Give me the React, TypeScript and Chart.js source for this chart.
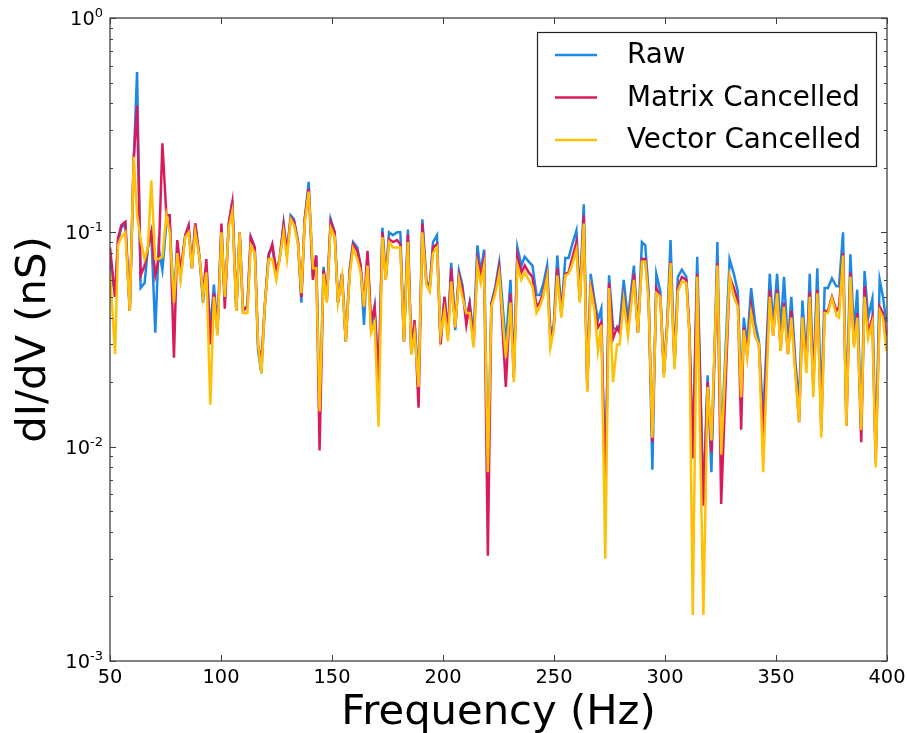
import React, { useEffect, useRef } from 'react';
import { Chart, registerables } from 'chart.js';

Chart.register(...registerables);

const freq = [
  50.0, 52.3, 53.6, 55.1, 56.9, 58.9, 60.7, 62.2, 63.8, 65.6, 67.1, 68.6, 70.4, 71.9, 73.6, 75.4, 76.9, 78.8, 80.3, 81.8,
  83.9, 85.4, 86.9, 88.4, 90.4, 91.9, 93.4, 95.2, 96.8, 98.4, 100.2, 101.7, 103.5, 105.1, 106.9, 108.4, 109.9, 111.9, 113.4, 115.2,
  116.7, 118.2, 119.7, 121.5, 123.1, 124.9, 126.4, 128.2, 129.7, 131.4, 132.9, 134.7, 136.2, 137.7, 139.5, 141.4, 142.9, 144.4, 146.2, 147.7,
  149.4, 151.2, 152.7, 154.5, 156.2, 158.0, 159.5, 161.4, 162.9, 164.4, 166.0, 167.6, 169.2, 171.0, 172.7, 174.2, 175.7, 177.5, 179.3, 180.8,
  182.4, 184.2, 185.7, 187.2, 189.0, 190.7, 192.5, 194.0, 195.5, 197.3, 198.9, 200.7, 202.2, 203.7, 205.5, 207.2, 208.7, 210.5, 212.0, 213.8,
  215.5, 217.0, 218.5, 220.2, 221.8, 223.6, 225.3, 228.3, 230.4, 231.9, 233.5, 235.3, 236.8, 238.6, 240.3, 242.1, 243.6, 245.1, 246.9, 248.4,
  249.9, 251.5, 253.3, 255.1, 256.6, 258.1, 260.1, 261.6, 263.4, 265.0, 266.5, 268.3, 269.8, 271.3, 273.1, 274.8, 276.6, 278.4, 279.6, 281.4,
  283.3, 286.0, 287.8, 289.6, 291.1, 292.6, 294.3, 296.1, 297.9, 299.5, 301.0, 302.5, 304.3, 305.8, 307.6, 309.6, 311.0, 312.5, 314.5, 317.3,
  319.2, 320.9, 323.6, 325.3, 329.1, 331.0, 332.8, 334.3, 335.5, 337.0, 338.8, 340.6, 342.3, 344.2, 347.2, 348.7, 350.5, 352.1, 353.6, 355.4,
  356.9, 358.7, 360.4, 361.9, 363.7, 365.2, 366.8, 368.6, 370.4, 371.9, 373.4, 375.2, 377.2, 378.4, 380.2, 381.7, 383.5, 385.1, 386.6, 388.4,
  389.9, 391.5, 393.4, 394.9, 396.7, 398.2, 399.7,
];

const raw = [
  0.075, 0.05, 0.09, 0.105, 0.11, 0.043, 0.22, 0.56, 0.055, 0.058, 0.085, 0.1, 0.034, 0.085, 0.067, 0.11, 0.11, 0.047, 0.09, 0.062,
  0.097, 0.105, 0.068, 0.11, 0.075, 0.047, 0.07, 0.035, 0.057, 0.035, 0.105, 0.048, 0.11, 0.14, 0.043, 0.1, 0.044, 0.045, 0.095, 0.085,
  0.028, 0.022, 0.045, 0.08, 0.085, 0.065, 0.075, 0.11, 0.08, 0.12, 0.115, 0.09, 0.047, 0.115, 0.172, 0.062, 0.078, 0.015, 0.069, 0.048,
  0.115, 0.1, 0.047, 0.064, 0.031, 0.068, 0.09, 0.085, 0.07, 0.037, 0.08, 0.035, 0.045, 0.02, 0.105, 0.062, 0.1, 0.097, 0.1, 0.1,
  0.031, 0.103, 0.027, 0.038, 0.02, 0.115, 0.06, 0.055, 0.09, 0.097, 0.031, 0.05, 0.033, 0.072, 0.035, 0.066, 0.057, 0.04, 0.047, 0.033,
  0.087, 0.065, 0.083, 0.008, 0.047, 0.056, 0.072, 0.03, 0.06, 0.022, 0.085, 0.07, 0.077, 0.073, 0.07, 0.051, 0.051, 0.057, 0.07, 0.034,
  0.037, 0.078, 0.042, 0.076, 0.076, 0.087, 0.102, 0.049, 0.135, 0.019, 0.064, 0.048, 0.039, 0.044, 0.006, 0.063, 0.036, 0.035, 0.037, 0.06,
  0.039, 0.07, 0.034, 0.09, 0.087, 0.053, 0.0078, 0.064, 0.053, 0.022, 0.038, 0.092, 0.024, 0.062, 0.067, 0.062, 0.035, 0.009, 0.077, 0.0055,
  0.0215, 0.0076, 0.09, 0.01, 0.075, 0.064, 0.053, 0.018, 0.04, 0.03, 0.055, 0.038, 0.031, 0.0135, 0.064, 0.037, 0.064, 0.035, 0.062, 0.03,
  0.05, 0.025, 0.016, 0.048, 0.025, 0.064, 0.02, 0.068, 0.015, 0.055, 0.055, 0.061, 0.056, 0.056, 0.1, 0.014, 0.079, 0.034, 0.054, 0.012,
  0.066, 0.04, 0.049, 0.009, 0.06, 0.05, 0.038,
];

const matrix = [
  0.085, 0.05, 0.094, 0.108, 0.112, 0.043, 0.22, 0.39, 0.063, 0.07, 0.085, 0.1, 0.063, 0.075, 0.26, 0.12, 0.12, 0.026, 0.092, 0.066,
  0.097, 0.108, 0.068, 0.11, 0.075, 0.05, 0.075, 0.03, 0.052, 0.034, 0.11, 0.044, 0.11, 0.138, 0.043, 0.1, 0.043, 0.045, 0.095, 0.085,
  0.03, 0.025, 0.045, 0.078, 0.088, 0.066, 0.075, 0.108, 0.08, 0.117, 0.112, 0.09, 0.05, 0.115, 0.16, 0.06, 0.078, 0.0096, 0.067, 0.05,
  0.112, 0.1, 0.047, 0.064, 0.031, 0.066, 0.088, 0.082, 0.07, 0.045, 0.082, 0.038, 0.045, 0.02, 0.1, 0.06, 0.093, 0.09, 0.092, 0.088,
  0.031, 0.098, 0.028, 0.039, 0.0152, 0.11, 0.058, 0.054, 0.085, 0.088, 0.03, 0.05, 0.033, 0.068, 0.036, 0.063, 0.055, 0.037, 0.046, 0.03,
  0.075, 0.064, 0.075, 0.0031, 0.046, 0.054, 0.068, 0.019, 0.052, 0.021, 0.078, 0.065, 0.07, 0.065, 0.062, 0.045, 0.047, 0.052, 0.064, 0.031,
  0.036, 0.068, 0.042, 0.064, 0.065, 0.075, 0.09, 0.048, 0.12, 0.0185, 0.058, 0.045, 0.036, 0.038, 0.006, 0.058, 0.032, 0.036, 0.034, 0.05,
  0.035, 0.064, 0.034, 0.075, 0.075, 0.05, 0.0105, 0.055, 0.05, 0.022, 0.037, 0.073, 0.024, 0.055, 0.062, 0.06, 0.034, 0.0088, 0.064, 0.0053,
  0.02, 0.0094, 0.072, 0.0054, 0.062, 0.055, 0.048, 0.012, 0.036, 0.027, 0.045, 0.033, 0.03, 0.011, 0.054, 0.033, 0.054, 0.028, 0.047, 0.027,
  0.043, 0.023, 0.013, 0.04, 0.024, 0.053, 0.019, 0.054, 0.012, 0.043, 0.043, 0.05, 0.043, 0.045, 0.08, 0.0125, 0.065, 0.03, 0.042, 0.0105,
  0.056, 0.034, 0.04, 0.0085, 0.045, 0.042, 0.033,
];

const vector = [
  0.065, 0.027, 0.087, 0.095, 0.1, 0.043, 0.225, 0.12, 0.092, 0.075, 0.085, 0.175, 0.075, 0.075, 0.077, 0.12, 0.1, 0.047, 0.08, 0.06,
  0.095, 0.1, 0.068, 0.1, 0.075, 0.05, 0.065, 0.0157, 0.05, 0.033, 0.1, 0.05, 0.105, 0.125, 0.043, 0.1, 0.042, 0.042, 0.087, 0.08,
  0.03, 0.022, 0.045, 0.075, 0.075, 0.06, 0.075, 0.1, 0.075, 0.115, 0.108, 0.088, 0.052, 0.11, 0.155, 0.068, 0.068, 0.0146, 0.064, 0.047,
  0.105, 0.095, 0.047, 0.062, 0.031, 0.064, 0.084, 0.075, 0.065, 0.045, 0.07, 0.034, 0.038, 0.0124, 0.095, 0.06, 0.09, 0.085, 0.085, 0.085,
  0.031, 0.09, 0.027, 0.034, 0.019, 0.1, 0.057, 0.053, 0.08, 0.085, 0.033, 0.043, 0.031, 0.059, 0.036, 0.06, 0.05, 0.042, 0.042, 0.029,
  0.07, 0.058, 0.07, 0.0076, 0.045, 0.052, 0.064, 0.026, 0.047, 0.02, 0.07, 0.06, 0.065, 0.06, 0.056, 0.042, 0.045, 0.05, 0.062, 0.029,
  0.035, 0.063, 0.04, 0.063, 0.064, 0.07, 0.083, 0.047, 0.11, 0.018, 0.055, 0.043, 0.028, 0.037, 0.003, 0.055, 0.02, 0.03, 0.03, 0.048,
  0.033, 0.06, 0.034, 0.073, 0.073, 0.048, 0.011, 0.052, 0.05, 0.021, 0.036, 0.072, 0.023, 0.053, 0.059, 0.058, 0.033, 0.00164, 0.062, 0.00164,
  0.019, 0.0107, 0.07, 0.0092, 0.062, 0.05, 0.045, 0.017, 0.035, 0.026, 0.042, 0.033, 0.03, 0.0076, 0.05, 0.033, 0.052, 0.028, 0.045, 0.027,
  0.04, 0.022, 0.013, 0.04, 0.022, 0.05, 0.017, 0.052, 0.011, 0.042, 0.042, 0.049, 0.041, 0.04, 0.078, 0.0125, 0.062, 0.029, 0.04, 0.012,
  0.05, 0.032, 0.038, 0.008, 0.043, 0.04, 0.028,
];

const seriesLabels = ['Raw', 'Matrix Cancelled', 'Vector Cancelled'];
const seriesColors = ['#1E88E5', '#D81B60', '#FFC107'];

const xTickValues = [50, 100, 150, 200, 250, 300, 350, 400];
const xTickLabels = ['50', '100', '150', '200', '250', '300', '350', '400'];
const yMajorValues = [0.001, 0.01, 0.1, 1];
const yExponents = ['-3', '-2', '-1', '0'];
const yMinorMultipliers = [2, 3, 4, 5, 6, 7, 8, 9];

const xTitle = 'Frequency (Hz)';
const yTitle = 'dI/dV (nS)';

const FONT = '"DejaVu Sans", "Liberation Sans", sans-serif';

const decorPlugin = {
  id: 'decor',
  afterDraw(chart: any) {
    const { ctx, chartArea: a, scales } = chart;
    const xs = scales.x;
    const ys = scales.y;
    ctx.save();

    const seg = (x1: number, y1: number, x2: number, y2: number) => {
      ctx.beginPath();
      ctx.moveTo(x1, y1);
      ctx.lineTo(x2, y2);
      ctx.stroke();
    };

    // frame
    ctx.strokeStyle = '#404040';
    ctx.lineWidth = 1.3;
    ctx.strokeRect(a.left, a.top, a.right - a.left, a.bottom - a.top);

    // x ticks (inward, bottom and top)
    ctx.lineWidth = 1;
    for (const t of xTickValues) {
      const px = Math.round(xs.getPixelForValue(t)) + 0.5;
      seg(px, a.bottom, px, a.bottom - 6);
      seg(px, a.top, px, a.top + 6);
    }
    // y major ticks
    for (const v of yMajorValues) {
      const py = Math.round(ys.getPixelForValue(v)) + 0.5;
      seg(a.left, py, a.left + 6, py);
      seg(a.right, py, a.right - 6, py);
    }
    // y minor ticks
    for (let i = 0; i < yMajorValues.length - 1; i++) {
      for (const m of yMinorMultipliers) {
        const py = Math.round(ys.getPixelForValue(yMajorValues[i] * m)) + 0.5;
        seg(a.left, py, a.left + 3, py);
        seg(a.right, py, a.right - 3, py);
      }
    }

    ctx.fillStyle = '#000';

    // x tick labels
    ctx.font = `19.4px ${FONT}`;
    ctx.textAlign = 'center';
    ctx.textBaseline = 'alphabetic';
    xTickValues.forEach((t, i) => {
      ctx.fillText(xTickLabels[i], xs.getPixelForValue(t), a.bottom + 22);
    });

    // y tick labels with superscripts
    ctx.textAlign = 'right';
    yMajorValues.forEach((v, i) => {
      const py = ys.getPixelForValue(v);
      ctx.font = `13px ${FONT}`;
      const ew = ctx.measureText(yExponents[i]).width;
      ctx.fillText(yExponents[i], a.left - 7, py - 1);
      ctx.font = `19.4px ${FONT}`;
      ctx.fillText('10', a.left - 7 - ew, py + 7);
    });

    // axis titles
    ctx.font = `41.7px ${FONT}`;
    ctx.textAlign = 'center';
    ctx.textBaseline = 'alphabetic';
    ctx.fillText(xTitle, (a.left + a.right) / 2, a.bottom + 63);
    ctx.save();
    ctx.translate(45, (a.top + a.bottom) / 2);
    ctx.rotate(-Math.PI / 2);
    ctx.fillText(yTitle, 0, 0);
    ctx.restore();

    // legend
    const lx = a.right - 350;
    const ly = a.top + 14;
    const lw = 339;
    const lh = 134;
    ctx.fillStyle = '#fff';
    ctx.fillRect(lx, ly, lw, lh);
    ctx.strokeStyle = '#222';
    ctx.lineWidth = 1.2;
    ctx.strokeRect(lx + 0.5, ly + 0.5, lw, lh);
    ctx.font = `27.8px ${FONT}`;
    ctx.textAlign = 'left';
    ctx.textBaseline = 'middle';
    chart.data.datasets.forEach((ds: any, i: number) => {
      const cy = ly + 23 + i * 42.5;
      ctx.strokeStyle = ds.borderColor;
      ctx.lineWidth = 2.5;
      seg(lx + 18, cy, lx + 60, cy);
      ctx.fillStyle = '#000';
      ctx.fillText(ds.label, lx + 90, cy + 1);
    });

    ctx.restore();
  },
};

export default function App() {
  const ref = useRef<HTMLCanvasElement | null>(null);

  useEffect(() => {
    if (!ref.current) return;
    const mk = (vals: number[]) => freq.map((f, i) => ({ x: f, y: vals[i] }));
    const allSeries = [raw, matrix, vector];
    const chart = new Chart(ref.current, {
      type: 'line',
      data: {
        datasets: allSeries.map((vals, i) => ({
          label: seriesLabels[i],
          data: mk(vals),
          borderColor: seriesColors[i],
          backgroundColor: seriesColors[i],
          borderWidth: 2.5,
          pointRadius: 0,
          tension: 0,
          fill: false,
          order: 3 - i,
        })),
      },
      options: {
        responsive: false,
        animation: false,
        devicePixelRatio: 1,
        layout: { padding: { left: 0, top: 18, right: 20, bottom: 0 } },
        plugins: { legend: { display: false }, tooltip: { enabled: false } },
        scales: {
          x: {
            type: 'linear',
            min: 50,
            max: 400,
            grid: { display: false },
            border: { display: false },
            ticks: { display: false },
            afterFit: (s: any) => {
              s.height = 72;
            },
          },
          y: {
            type: 'logarithmic',
            min: 0.001,
            max: 1,
            grid: { display: false },
            border: { display: false },
            ticks: { display: false },
            afterFit: (s: any) => {
              s.width = 110;
            },
          },
        },
      },
      plugins: [decorPlugin],
    } as any);
    return () => chart.destroy();
  }, []);

  return (
    <div style={{ position: 'fixed', left: 0, top: 0, width: 907, height: 733, background: '#fff' }}>
      <canvas ref={ref} width={907} height={733} style={{ display: 'block' }} />
    </div>
  );
}
